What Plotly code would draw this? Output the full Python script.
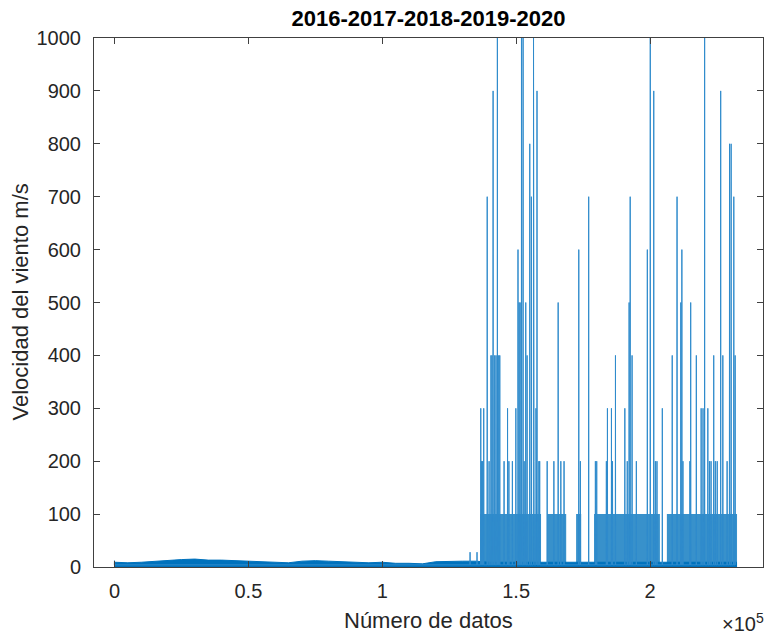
import plotly.graph_objects as go

# wind speed record, 2016-2020 (m/s) against sample number
# low-level noise envelope of the series, read every 5000 samples
base_x = [0, 5000, 10000, 15000, 20000, 25000, 30000, 35000, 40000, 45000,
          50000, 55000, 60000, 65000, 70000, 75000, 80000, 85000, 90000, 95000,
          100000, 105000, 110000, 115000, 120000, 125000, 130000, 135000,
          140000, 150000, 160000, 170000, 180000, 190000, 200000, 210000,
          220000, 230000, 232500]
base_v = [9, 8, 9, 11, 13, 14, 15, 13, 13, 12,
          10, 9, 8, 8, 11, 12, 11, 10, 9, 8,
          9, 7, 7, 6, 10, 11, 11, 11,
          9, 9, 9, 9, 9, 9, 9, 9,
          9, 9, 9]

# stretches where the readings jump to 100 again and again
block_start = [136600, 161600, 172400, 179100, 206300]
block_end = [159300, 168700, 174300, 203700, 232500]
block_level = 100

# single spikes (sample number, m/s)
spike_x = [0, 132800, 135400, 136800, 137100, 137500, 137900, 139200, 139900,
           140600, 141000, 141400, 142000, 142500, 143000, 143500, 143900,
           145500, 146800, 147300, 148600, 149900, 150700, 151100, 151500,
           152000, 152600, 153000, 153600, 154100, 155100, 155700, 156500,
           156700, 157400, 157800, 158500, 158800, 161600, 164100, 165700,
           166700, 167900, 173400, 174000, 177100, 179600, 180100, 183700,
           184100, 185600, 186000, 187100, 190600, 191500, 192200, 192600,
           193300, 194900, 199000, 200100, 201400, 202000, 202600, 204600,
           208300, 210100, 211500, 211900, 212300, 214900, 215200, 217300,
           219100, 219800, 220400, 221600, 222200, 222800, 223800, 224400,
           225100, 226400, 227200, 228800, 229700, 230300, 231300, 231800]
spike_v = [12, 28, 28, 300, 200, 200, 300, 700, 200,
           400, 400, 900, 400, 400, 1000, 400, 400,
           200, 300, 200, 200, 300, 600, 500, 500,
           1000, 1000, 200, 500, 400, 800, 700, 1000,
           200, 300, 900, 200, 200, 200, 200, 500,
           200, 200, 600, 200, 700, 200, 200, 200,
           300, 300, 200, 400, 300, 200, 500, 700,
           400, 200, 600, 1000, 900, 200, 200, 300,
           400, 700, 500, 600, 200, 200, 500, 400,
           300, 300, 1000, 300, 200, 200, 400, 200,
           200, 900, 400, 200, 800, 800, 700, 400]

x_ticks = [0, 50000, 100000, 150000, 200000]
x_tick_text = ['0', '0.5', '1', '1.5', '2']
y_ticks = list(range(0, 1001, 100))

BLUE = '#0072BD'
AX = '#404040'
FONT = 'Liberation Sans, Arial, Helvetica, sans-serif'

sx, sy = [], []
for x, v in zip(spike_x, spike_v):
    sx += [x - 60, x, x + 60]
    sy += [4, v, 4]

bx, by = [], []
for a, b in zip(block_start, block_end):
    bx += [a, a, b, b, None]
    by += [0, block_level, block_level, 0, None]

fig = go.Figure()
fig.add_trace(go.Scatter(x=base_x, y=base_v, mode='lines', fill='tozeroy',
                         line=dict(color=BLUE, width=1), fillcolor=BLUE))
fig.add_trace(go.Scatter(x=bx, y=by, mode='lines', fill='toself',
                         line=dict(width=0), fillcolor='rgba(0,114,189,0.78)'))
fig.add_trace(go.Scatter(x=sx, y=sy, mode='lines',
                         line=dict(color='#2f8bcc', width=1)))

axis_common = dict(showline=True, mirror='ticks', linecolor=AX, linewidth=1,
                   ticks='inside', ticklen=6, tickcolor=AX, showgrid=False,
                   zeroline=False, tickfont=dict(family=FONT, size=20, color='#262626'))

fig.update_layout(
    width=766, height=634,
    margin=dict(l=94, r=3, t=38, b=67),
    paper_bgcolor='white', plot_bgcolor='white',
    showlegend=False,
    title=dict(text='<b>2016-2017-2018-2019-2020</b>', x=0.5, xref='paper',
               y=1 - 18 / 634, yref='container', yanchor='middle',
               font=dict(family=FONT, size=22, color='black')),
    xaxis=dict(range=[-7650, 242200], tickvals=x_ticks, ticktext=x_tick_text,
               ticklabelstandoff=6, **axis_common),
    yaxis=dict(range=[0, 1000], tickvals=y_ticks, ticklabelstandoff=8,
               **axis_common),
    annotations=[
        dict(text='Número de datos', xref='paper', yref='paper', x=0.5, y=-0.102,
             xanchor='center', yanchor='middle', showarrow=False,
             font=dict(family=FONT, size=22, color='#262626')),
        dict(text='Velocidad del viento m/s', xref='paper', yref='paper',
             x=-0.1106, y=0.5, textangle=-90, xanchor='center', yanchor='middle',
             showarrow=False, font=dict(family=FONT, size=22, color='#262626')),
        dict(text='×10<sup>5</sup>', xref='paper', yref='paper', x=1.004, y=-0.104,
             xanchor='right', yanchor='middle', showarrow=False,
             font=dict(family=FONT, size=20, color='#262626')),
    ],
)

fig.write_html('out.html', config={'displayModeBar': False},
               post_script="document.body.style.margin='0';")
